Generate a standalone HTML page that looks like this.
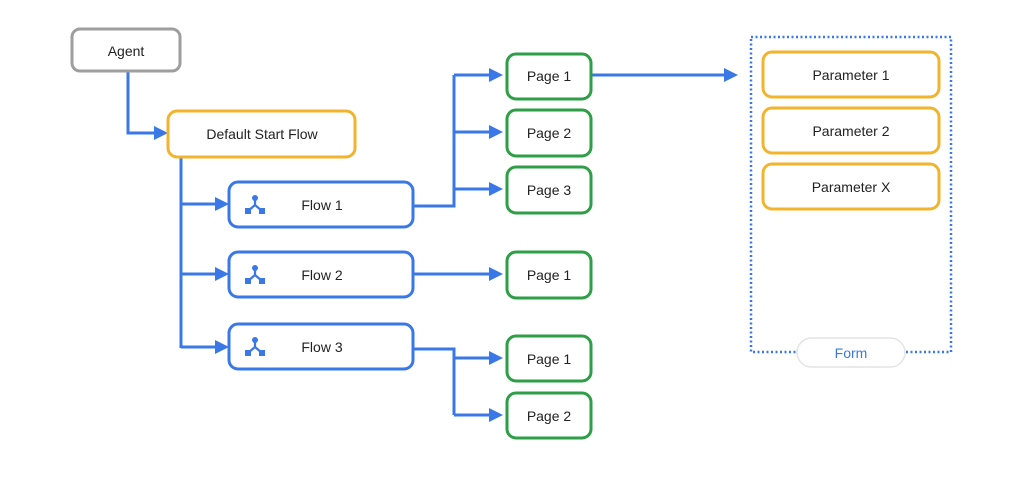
<!DOCTYPE html>
<html><head><meta charset="utf-8"><style>
html,body{margin:0;padding:0;background:#fff;}
svg{display:block}
text{font-family:"Liberation Sans",sans-serif;font-size:14px;fill:#222;text-anchor:middle;dominant-baseline:central}
</style></head><body>
<svg width="1013" height="494" viewBox="0 0 1013 494">
<defs>
<marker id="a" markerWidth="16" markerHeight="16" refX="0" refY="7" orient="auto" markerUnits="userSpaceOnUse">
<path d="M0,0 L14,7 L0,14 z" fill="#3b78e7"/></marker>
<g id="ic"><circle cx="0" cy="-7" r="3" fill="#3b78e7"/><path d="M0,-7 V0 L-7,6 M0,0 L7,6" stroke="#3b78e7" stroke-width="2.2" fill="none"/><rect x="-10" y="3" width="6" height="6" fill="#3b78e7"/><rect x="4" y="3" width="6" height="6" fill="#3b78e7"/></g>
</defs>
<g stroke="#3b78e7" stroke-width="3" fill="none">
<path d="M128,71 V133 H154" marker-end="url(#a)"/>
<path d="M181,157 V348"/>
<path d="M181,204 H215" marker-end="url(#a)"/>
<path d="M181,274 H215" marker-end="url(#a)"/>
<path d="M181,347 H215" marker-end="url(#a)"/>
<path d="M413,206 H454 V75"/>
<path d="M454,75 H489" marker-end="url(#a)"/>
<path d="M454,132 H489" marker-end="url(#a)"/>
<path d="M454,189 H489" marker-end="url(#a)"/>
<path d="M413,274 H489" marker-end="url(#a)"/>
<path d="M413,349 H454 V415"/>
<path d="M454,358 H489" marker-end="url(#a)"/>
<path d="M454,415 H489" marker-end="url(#a)"/>
<path d="M591,75 H724" marker-end="url(#a)"/>
</g>
<rect x="751" y="37" width="200" height="315" fill="none" stroke="#3b78e7" stroke-width="2.5" stroke-dasharray="2 2.5"/>
<rect x="72" y="29" width="108" height="42" rx="8" fill="#fff" stroke="#9e9e9e" stroke-width="3"/><text x="126" y="51">Agent</text>
<rect x="168" y="111" width="187" height="46" rx="9" fill="#fff" stroke="#f2b42c" stroke-width="3"/><text x="262" y="134">Default Start Flow</text>
<g fill="#fff" stroke="#3b78e7" stroke-width="3">
<rect x="229" y="182" width="184" height="45" rx="9"/><rect x="229" y="252" width="184" height="45" rx="9"/><rect x="229" y="324" width="184" height="45" rx="9"/></g>
<use href="#ic" x="255" y="205"/><use href="#ic" x="255" y="275"/><use href="#ic" x="255" y="347"/>
<text x="322" y="205">Flow 1</text><text x="322" y="275">Flow 2</text><text x="322" y="347">Flow 3</text>
<g fill="#fff" stroke="#2e9e47" stroke-width="3">
<rect x="507" y="54" width="84" height="45" rx="9"/><rect x="507" y="110" width="84" height="46" rx="9"/><rect x="507" y="167" width="84" height="46" rx="9"/>
<rect x="507" y="252" width="84" height="46" rx="9"/><rect x="507" y="336" width="84" height="45" rx="9"/><rect x="507" y="393" width="84" height="45" rx="9"/></g>
<text x="549" y="76">Page 1</text><text x="549" y="133">Page 2</text><text x="549" y="190">Page 3</text>
<text x="549" y="275">Page 1</text><text x="549" y="359">Page 1</text><text x="549" y="416">Page 2</text>
<g fill="#fff" stroke="#f2b42c" stroke-width="3">
<rect x="763" y="52" width="176" height="45" rx="9"/><rect x="763" y="108" width="176" height="45" rx="9"/><rect x="763" y="164" width="176" height="45" rx="9"/></g>
<text x="851" y="75">Parameter 1</text><text x="851" y="131">Parameter 2</text><text x="851" y="187">Parameter X</text>
<rect x="797" y="338" width="108" height="29" rx="14.5" fill="#fff" stroke="#e4e4e4" stroke-width="1.5"/>
<text x="851" y="353" style="fill:#3b78e7">Form</text>
</svg>
</body></html>
